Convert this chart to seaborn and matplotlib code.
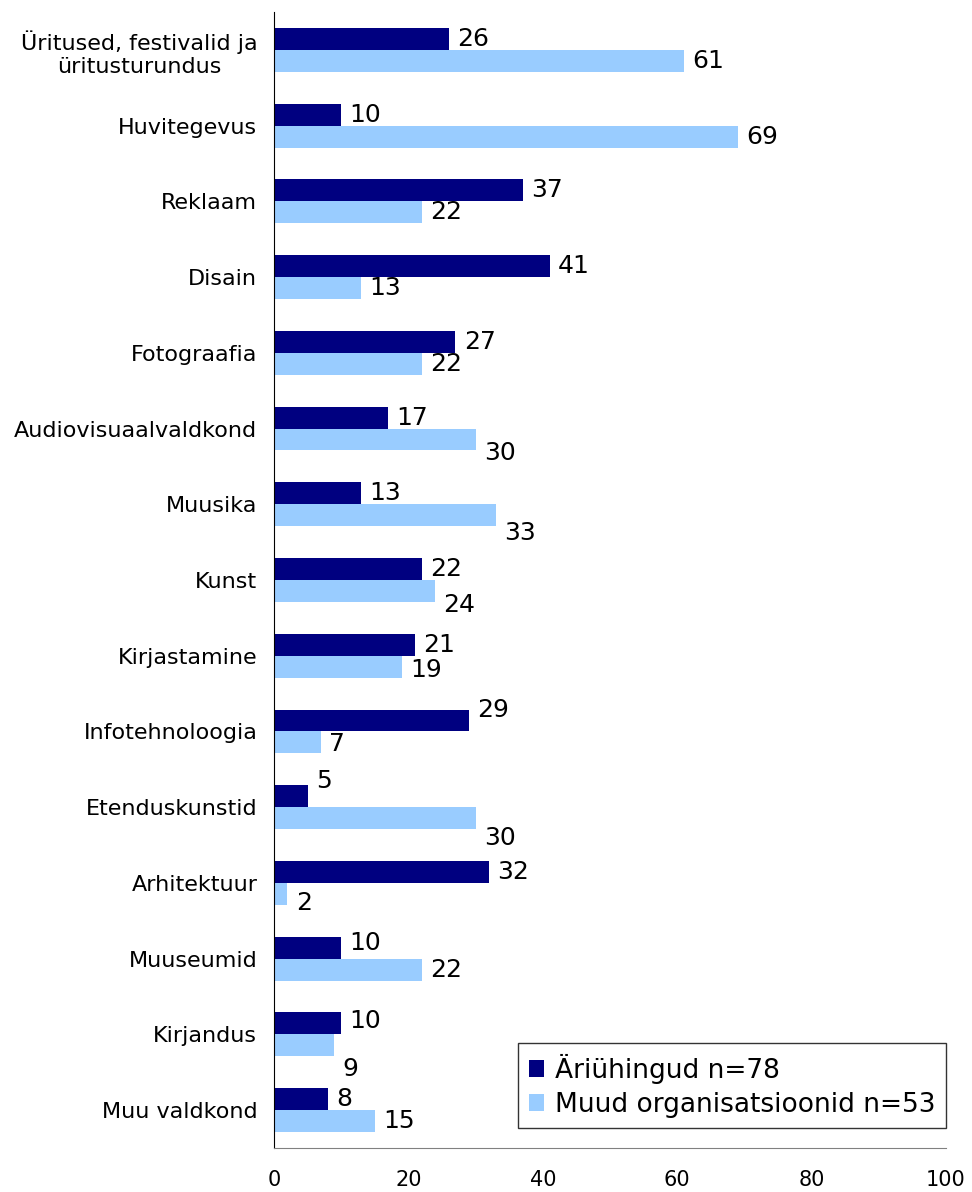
import numpy as np
import pandas as pd
import seaborn as sns
import matplotlib.pyplot as plt

categories = ["Üritused, festivalid ja\nüritusturundus", "Huvitegevus", "Reklaam", "Disain",
              "Fotograafia", "Audiovisuaalvaldkond", "Muusika", "Kunst", "Kirjastamine",
              "Infotehnoloogia", "Etenduskunstid", "Arhitektuur", "Muuseumid", "Kirjandus",
              "Muu valdkond"]
ariuhingud = [26, 10, 37, 41, 27, 17, 13, 22, 21, 29, 5, 32, 10, 10, 8]
muud_org = [61, 69, 22, 13, 22, 30, 33, 24, 19, 7, 30, 2, 22, 9, 15]
series = ["Äriühingud n=78", "Muud organisatsioonid n=53"]

# vertical nudge of the value labels (px, + = down), like the original chart
label_dy_dark = [0, 0, 0, 0, 0, 0, 0, 0, 0, -10, -15, 0, -5, -2, 0]
label_dy_light = [0, 0, 0, 0, 0, 13, 18, 14, 3, 2, 20, 9, 0, 24, 0]

df = pd.DataFrame({
    "valdkond": categories * 2,
    "vaartus": ariuhingud + muud_org,
    "grupp": [series[0]] * len(categories) + [series[1]] * len(categories),
})

sns.set_style("white")
plt.rcParams['font.family'] = ['DejaVu Sans']
plt.rcParams['text.color'] = 'black'
plt.rcParams['xtick.color'] = 'black'
plt.rcParams['ytick.color'] = 'black'

fig = plt.figure(figsize=(9.72, 11.92), dpi=100)
ax = fig.add_axes([274 / 972, 1 - 1148 / 1192, 672 / 972, 1136 / 1192])

sns.barplot(data=df, y="valdkond", x="vaartus", hue="grupp", orient="h",
            palette=["#000080", "#99CCFF"], width=0.58, gap=0, saturation=1,
            errorbar=None, linewidth=0, ax=ax)

ax.set_xlim(0, 100)
ax.set_ylim(len(categories) - 0.5, -0.5)
ax.set_xticks(range(0, 101, 20))
ax.set_xlabel("")
ax.set_ylabel("")

# value labels
for cont, dys in zip(ax.containers, [label_dy_dark, label_dy_light]):
    for bar, dy in zip(cont, dys):
        w = bar.get_width()
        yc = bar.get_y() + bar.get_height() / 2
        ax.annotate(f"{w:.0f}", (w, yc), xytext=(6, -dy * 0.72), textcoords="offset points",
                    ha="left", va="center", fontsize=18, color="black")

# ticks between the categories
ax.set_yticks(np.arange(len(categories)))
ax.set_yticklabels(categories, multialignment="center")
ax.set_yticks(np.arange(len(categories) + 1) - 0.5, minor=True)
ax.tick_params(axis="y", which="major", length=0, pad=12, labelsize=16, labelcolor="black")
ax.tick_params(axis="y", which="minor", length=5, color="#808080", width=1, direction="out")
ax.tick_params(axis="x", which="major", length=5, color="#808080", width=1, direction="out",
               pad=11, labelsize=15, labelcolor="black")

for s in ["top", "right"]:
    ax.spines[s].set_visible(False)
ax.spines["left"].set_color("black")
ax.spines["bottom"].set_color("#808080")

handles, labels = ax.get_legend_handles_labels()
leg = ax.legend(handles, labels, loc="upper right", bbox_to_anchor=(946 / 972, 1 - 1043 / 1192),
                bbox_transform=fig.transFigure, borderaxespad=0, fontsize=19, frameon=True,
                fancybox=False, edgecolor="black", handlelength=0.6, handleheight=0.6,
                handletextpad=0.4, labelspacing=0.3, borderpad=0.4)
leg.get_frame().set_linewidth(1)
for t in leg.get_texts():
    t.set_color("black")

fig.savefig("out.png", dpi=100)
